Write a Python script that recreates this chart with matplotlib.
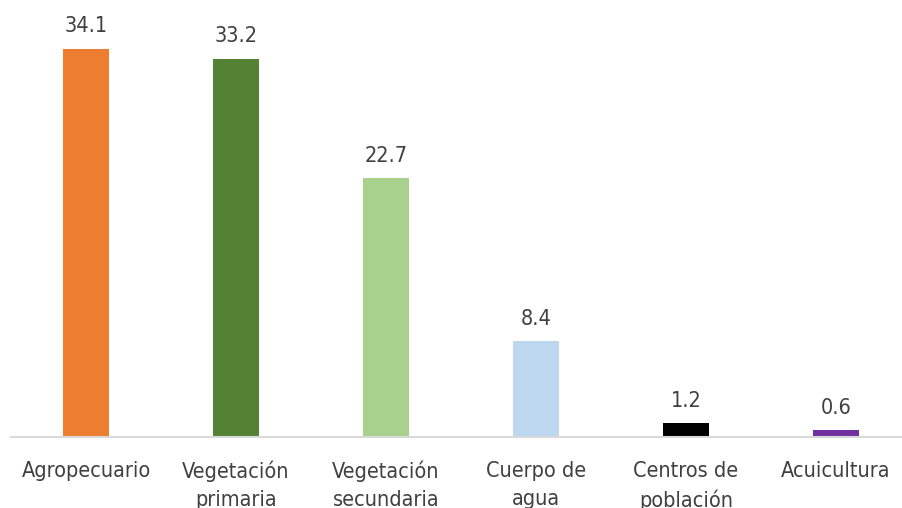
# ============================================================
# Land use distribution – percentage of area by category
# ============================================================

import numpy as np
import matplotlib.pyplot as plt


# ----------------------------
# Data
# ----------------------------
categories = ["Agropecuario", "Vegetación\nprimaria", "Vegetación\nsecundaria",
              "Cuerpo de\nagua", "Centros de\npoblación", "Acuicultura"]
values = [34.1, 33.2, 22.7, 8.4, 1.2, 0.6]
colors = ["#ED7D31", "#548235", "#A9D18E", "#BDD7EE", "#000000", "#7030A0"]

plt.rcParams["font.family"] = ["DejaVu Sans"]
plt.rcParams["font.stretch"] = "condensed"

# ----------------------------
# Plot
# ----------------------------
x = np.arange(len(categories))

fig = plt.figure(figsize=(9.02, 5.08), dpi=100)
ax = fig.add_axes([11 / 902, 71 / 508, 900 / 902, 410 / 508])
plt.bar(x, values, width=0.31, color=colors)

for xi, v in zip(x, values):
    plt.text(xi, v + 1.1, f"{v:.1f}", ha="center", va="bottom",
             fontsize=15.5, color="#404040", clip_on=False)   # value labels

plt.xlim(-0.5, len(categories) - 0.5)
plt.ylim(0, 36)
plt.xticks(x, categories, fontsize=15.5, color="#404040", linespacing=1.5)
plt.yticks([])
plt.tick_params(axis="x", length=0, pad=17)

for side in ["top", "right", "left"]:
    ax.spines[side].set_visible(False)
ax.spines["bottom"].set_color("#D9D9D9")
ax.spines["bottom"].set_linewidth(1.5)

plt.savefig("out.png", dpi=100)
